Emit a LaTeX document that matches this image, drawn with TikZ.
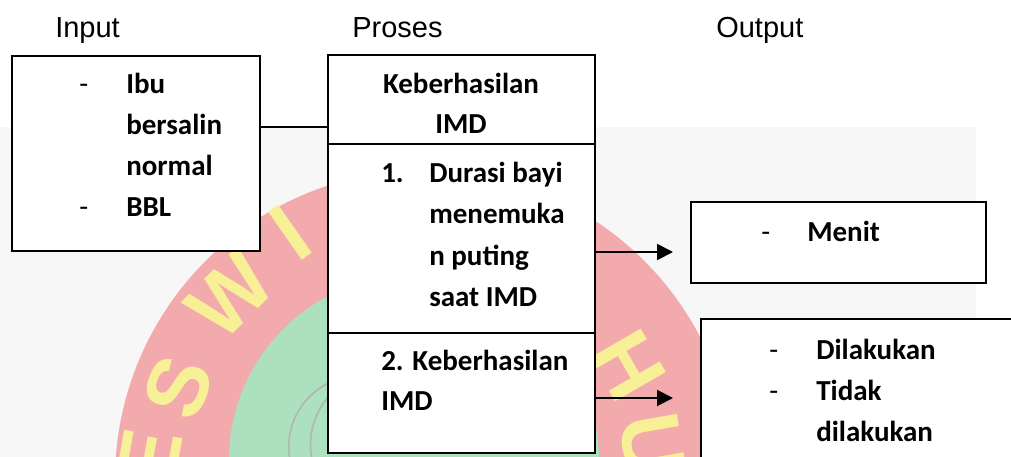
\documentclass[tikz,border=0pt]{standalone}
\usepackage{fontspec}
\newfontfamily\carlito{Carlito}
\newfontfamily\arialf{Liberation Sans}
\usetikzlibrary{arrows.meta}
\definecolor{wmred}{RGB}{243,170,172}
\definecolor{wmgreen}{RGB}{172,224,190}
\definecolor{wmyellow}{RGB}{248,240,150}
\definecolor{wmgray}{RGB}{247,247,247}
\definecolor{wmline}{RGB}{175,185,175}
\begin{document}
\begin{tikzpicture}[x=0.75pt,y=-0.75pt,
  box/.style={draw, line width=1.5pt, fill=white, inner sep=0, anchor=north west},
  txt/.style={inner sep=0, anchor=base west, font=\carlito\bfseries\fontsize{21.75}{26}\selectfont},
  dsh/.style={inner sep=0, anchor=base west, font=\carlito\fontsize{21.75}{26}\selectfont},
  ctxt/.style={txt, anchor=base},
  head/.style={inner sep=0, anchor=base west, font=\arialf\fontsize{21.75}{26}\selectfont},
  wm/.style={inner sep=0, text=wmyellow, font=\arialf\bfseries\fontsize{64}{64}\selectfont},
  wmstroke/.style={draw=wmline, line width=1.3pt},
  conn/.style={line width=1.5pt},
  arr/.style={line width=1.5pt, -{Triangle[length=12pt,width=12pt]}}]
\clip (0,0) rectangle (1011,457);
% watermark background
\fill[wmgray] (0,127) rectangle (976,457);
\fill[wmred] (425,480) circle[radius=310];
\fill[wmgreen] (414,460) circle[radius=185];
\draw[wmstroke] (340,378) .. controls (300,392) and (284,428) .. (290,460);
\draw[wmstroke] (345,382) .. controls (318,400) and (306,430) .. (312,460);
\node[wm, rotate=80] (wE) at (150,458) {E};
\node[wm, rotate=69] (wS) at (178,387) {S};
\node[wm, rotate=45] (wW) at (230,295) {W};
\node[wm, rotate=35] (wI) at (290,233) {I};
\node[wm, rotate=-60] (wH) at (628,366) {H};
\node[wm, rotate=-80] (wU) at (652,445) {U};
% headers
\node[head] (hin) at (55,37) {Input};
\node[head] (hpr) at (352,37) {Proses};
\node[head] (hout) at (716,37) {Output};
% boxes
\node[box, minimum width=186pt, minimum height=146.25pt] (in) at (11,55) {};
\node[box, minimum width=200.25pt, minimum height=66.75pt] (p1) at (327,54) {};
\node[box, minimum width=200.25pt, minimum height=141.75pt] (p2) at (327,143) {};
\node[box, minimum width=200.25pt, minimum height=90pt] (p3) at (327,332) {};
\node[box, minimum width=221.25pt, minimum height=60.75pt] (o1) at (690,201) {};
\node[box, minimum width=247.5pt, minimum height=120pt] (o2) at (700,318) {};
% input text
\node[dsh] (d1) at (79,93) {-};
\node[txt] (t1) at (126,93) {Ibu};
\node[txt] (t2) at (126,134) {bersalin};
\node[txt] (t3) at (126,175) {normal};
\node[dsh] (d2) at (79,216) {-};
\node[txt] (t4) at (126,216) {BBL};
% proses text
\node[ctxt] (k1) at (461,93) {Keberhasilan};
\node[ctxt] (k2) at (461,133) {IMD};
\node[txt] (n1) at (381,182) {1.};
\node[txt] (u1) at (429,182) {Durasi bayi};
\node[txt] (u2) at (429,223) {menemuka};
\node[txt] (u3) at (429,265) {n puting};
\node[txt] (u4) at (429,306) {saat IMD};
\node[txt] (v1) at (381,370) {2. Keberhasilan};
\node[txt] (v2) at (381,410) {IMD};
% output text
\node[dsh] (d3) at (761,241) {-};
\node[txt] (m1) at (807,241) {Menit};
\node[dsh] (d4) at (769,359) {-};
\node[txt] (q1) at (816,359) {Dilakukan};
\node[dsh] (d5) at (769,400) {-};
\node[txt] (q2) at (816,400) {Tidak};
\node[txt] (q3) at (816,441) {dilakukan};
% connectors
\coordinate (c1) at (300,127);
\coordinate (a1) at (673,252);
\coordinate (a2) at (673,398);
\draw[conn] (in.east |- c1) -- (p1.west |- c1);
\draw[arr] (p2.east |- a1) -- (a1);
\draw[arr] (p3.east |- a2) -- (a2);
\end{tikzpicture}
\end{document}
